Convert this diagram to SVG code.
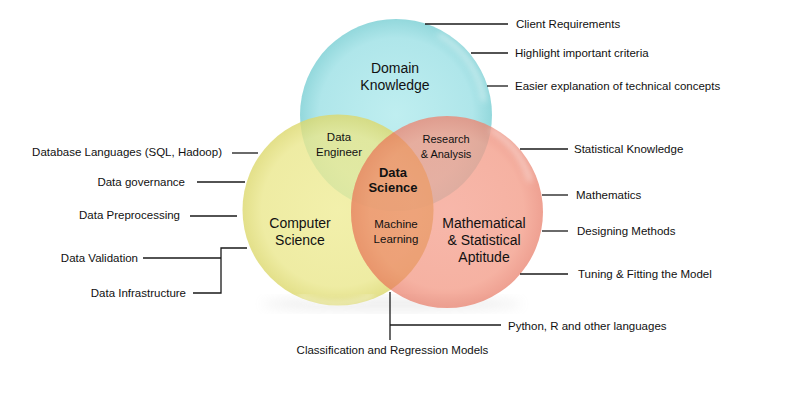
<svg xmlns="http://www.w3.org/2000/svg" width="800" height="400" viewBox="0 0 800 400">
  <defs>
    <radialGradient id="gBlue" cx="0.5" cy="0.5" r="0.5">
      <stop offset="0" stop-color="#bfeef0"/>
      <stop offset="0.8" stop-color="#afe6ea"/>
      <stop offset="1" stop-color="#93d8dc"/>
    </radialGradient>
    <radialGradient id="gYellow" cx="0.5" cy="0.5" r="0.5">
      <stop offset="0" stop-color="#efec96"/>
      <stop offset="0.8" stop-color="#eae78c"/>
      <stop offset="1" stop-color="#dcd86c"/>
    </radialGradient>
    <radialGradient id="gRed" cx="0.5" cy="0.5" r="0.5">
      <stop offset="0" stop-color="#f5a392"/>
      <stop offset="0.8" stop-color="#f39c88"/>
      <stop offset="1" stop-color="#ea8673"/>
    </radialGradient>
    <clipPath id="clipRed"><circle cx="447" cy="212" r="96"/></clipPath>
    <filter id="blur3" x="-20%" y="-20%" width="140%" height="140%"><feGaussianBlur stdDeviation="3"/></filter>
    <filter id="blur6" x="-30%" y="-30%" width="160%" height="160%"><feGaussianBlur stdDeviation="6"/></filter>
  </defs>
  <style>
    text { font-family: "Liberation Sans", Arial, sans-serif; fill: #111; }
    .lbl { font-size: 11.5px; }
    .big { font-size: 14px; text-anchor: middle; }
    .mid { font-size: 11.5px; text-anchor: middle; }
    .core { font-size: 13px; font-weight: bold; text-anchor: middle; }
    .end { text-anchor: end; }
    .conn { stroke: #1a1a1a; stroke-width: 1.3; fill: none; }
    .hl { fill: none; stroke: #ffffff; stroke-width: 4; stroke-linecap: round; opacity: 0.55; }
  </style>

  <rect width="800" height="400" fill="#ffffff"/>

  <!-- soft shadow under circles -->
  <ellipse cx="392" cy="304" rx="130" ry="6" fill="#a0a0a0" opacity="0.2" filter="url(#blur6)"/>

  <g id="domain-knowledge">
    <circle cx="396" cy="115" r="96" fill="url(#gBlue)"/>
    <path class="hl" d="M 440 35 A 90 90 0 0 1 484 100" filter="url(#blur3)"/>
  </g>

  <g id="computer-science">
    <circle cx="338" cy="210" r="95.5" fill="url(#gYellow)" opacity="0.8"/>
    <path class="hl" d="M 300 296 A 88 88 0 0 0 372 296" filter="url(#blur3)"/>
  </g>

  <g id="math-stat">
    <circle cx="447" cy="212" r="96" fill="url(#gRed)" opacity="0.78"/>
    <circle cx="338" cy="210" r="95.5" fill="#e3884a" opacity="0.33" clip-path="url(#clipRed)"/>
    <path class="hl" d="M 492 130 A 88 88 0 0 1 530 180" filter="url(#blur3)"/>
  </g>

  <g id="labels-inner">
    <text class="big" x="395" y="73">Domain</text>
    <text class="big" x="395" y="90">Knowledge</text>
    <text class="mid" x="339" y="141">Data</text>
    <text class="mid" x="339" y="156">Engineer</text>
    <text class="mid" x="446" y="143" style="font-size:11px">Research</text>
    <text class="mid" x="446" y="158" style="font-size:11px">&amp; Analysis</text>
    <text class="core" x="393" y="177">Data</text>
    <text class="core" x="393" y="192">Science</text>
    <text class="mid" x="396" y="228">Machine</text>
    <text class="mid" x="396" y="243">Learning</text>
    <text class="big" x="300" y="228">Computer</text>
    <text class="big" x="300" y="245">Science</text>
    <text class="big" x="484" y="228">Mathematical</text>
    <text class="big" x="484" y="245">&amp; Statistical</text>
    <text class="big" x="484" y="262">Aptitude</text>
  </g>

  <g id="connectors">
    <line class="conn" x1="425" y1="24" x2="508" y2="24"/>
    <line class="conn" x1="471" y1="53" x2="508" y2="53"/>
    <line class="conn" x1="487" y1="86" x2="508" y2="86"/>
    <line class="conn" x1="520" y1="149" x2="568" y2="149"/>
    <line class="conn" x1="542" y1="195" x2="568" y2="195"/>
    <line class="conn" x1="542" y1="231" x2="568" y2="231"/>
    <line class="conn" x1="520" y1="274" x2="568" y2="274"/>
    <line class="conn" x1="232" y1="153" x2="258" y2="153"/>
    <line class="conn" x1="197" y1="182" x2="245" y2="182"/>
    <line class="conn" x1="190" y1="216" x2="237" y2="216"/>
    <line class="conn" x1="143" y1="258" x2="221" y2="258"/>
    <polyline class="conn" points="247,248 221,248 221,293 193,293"/>
    <line class="conn" x1="390" y1="292" x2="390" y2="340"/>
    <line class="conn" x1="390" y1="325" x2="501" y2="325"/>
  </g>

  <g id="labels-outer">
    <text class="lbl" x="516" y="28">Client Requirements</text>
    <text class="lbl" x="515" y="57">Highlight important criteria</text>
    <text class="lbl" x="515" y="90">Easier explanation of technical concepts</text>
    <text class="lbl" x="574" y="153">Statistical Knowledge</text>
    <text class="lbl" x="576" y="199">Mathematics</text>
    <text class="lbl" x="577" y="235">Designing Methods</text>
    <text class="lbl" x="578" y="278">Tuning &amp; Fitting the Model</text>
    <text class="lbl end" x="222" y="156">Database Languages (SQL, Hadoop)</text>
    <text class="lbl end" x="185" y="186">Data governance</text>
    <text class="lbl end" x="180" y="219">Data Preprocessing</text>
    <text class="lbl end" x="138" y="262">Data Validation</text>
    <text class="lbl end" x="186" y="297">Data Infrastructure</text>
    <text class="lbl" x="508" y="330">Python, R and other languages</text>
    <text class="lbl" x="392.5" y="354" text-anchor="middle">Classification and Regression Models</text>
  </g>
</svg>
